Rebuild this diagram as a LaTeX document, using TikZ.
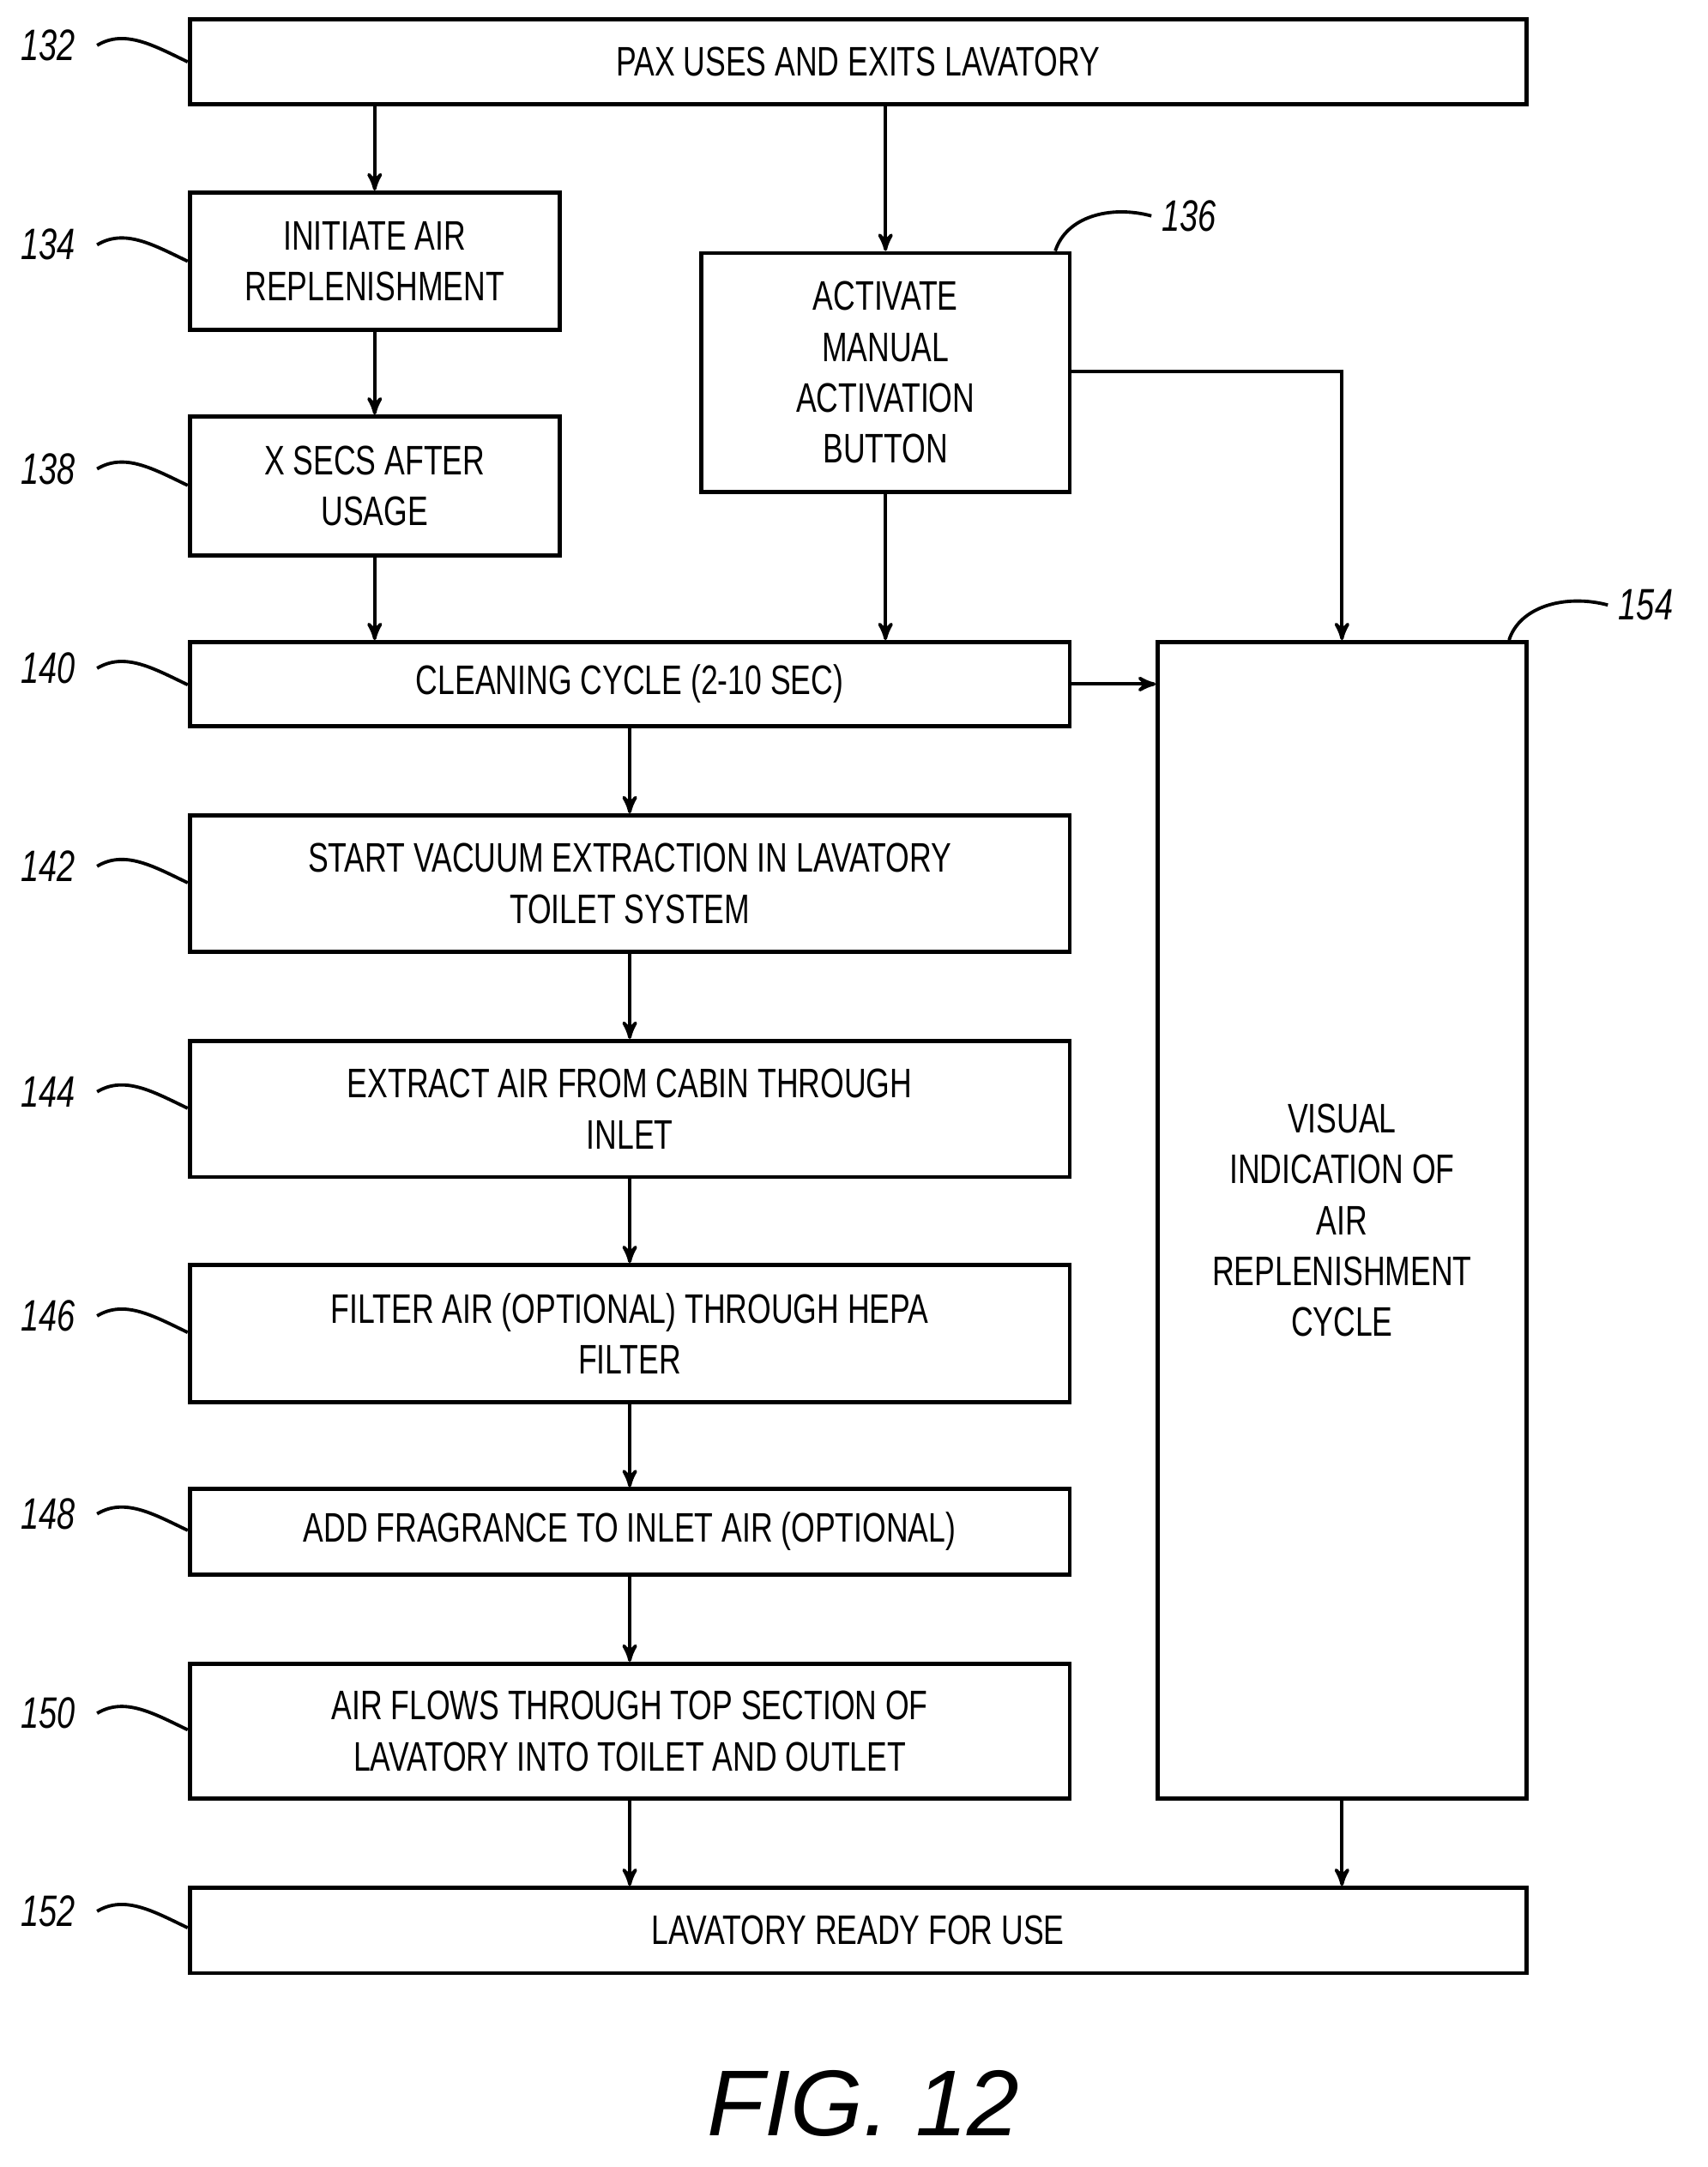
\documentclass[tikz,border=0pt]{standalone}
\usepackage{fontspec}
\setmainfont{Liberation Sans}
\newfontfamily\patfont[FakeStretch=0.74]{Liberation Sans}
\usetikzlibrary{arrows}
\begin{document}
\begin{tikzpicture}[x=0.5pt,y=-0.5pt,>=stealth',line width=1.2pt,
                    font=\patfont\fontsize{15}{18.5}\selectfont]
  \tikzstyle{stepbox}=[draw=black,line width=1.5pt,inner sep=2pt,align=center]
  \tikzstyle{ref}=[font=\itshape\patfont\fontsize{16}{18}\selectfont]
  \tikzstyle{lead}=[-,line width=1.2pt]
  \useasboundingbox (0,0) rectangle (1242,1576);

  \node[stepbox,minimum width=486pt,minimum height=31pt] (b132) at (624,45)   {PAX USES AND EXITS LAVATORY};
  \node[stepbox,minimum width=134.5pt,minimum height=50pt] (b134) at (272.5,190) {INITIATE AIR\\REPLENISHMENT};
  \node[stepbox,minimum width=134pt,minimum height=87pt] (b136) at (644,271) {ACTIVATE\\MANUAL\\ACTIVATION\\BUTTON};
  \node[stepbox,minimum width=134.5pt,minimum height=50.5pt] (b138) at (272.5,353.5) {X SECS AFTER\\USAGE};
  \node[stepbox,minimum width=320pt,minimum height=30.5pt] (b140) at (458,497.5) {CLEANING CYCLE (2-10 SEC)};
  \node[stepbox,minimum width=134pt,minimum height=420.5pt] (b154) at (976,887.5) {VISUAL\\INDICATION OF\\AIR\\REPLENISHMENT\\CYCLE};
  \node[stepbox,minimum width=320pt,minimum height=49.5pt] (b142) at (458,642.5) {START VACUUM EXTRACTION IN LAVATORY\\TOILET SYSTEM};
  \node[stepbox,minimum width=320pt,minimum height=49.5pt] (b144) at (458,806.5) {EXTRACT AIR FROM CABIN THROUGH\\INLET};
  \node[stepbox,minimum width=320pt,minimum height=50pt] (b146) at (458,970) {FILTER AIR (OPTIONAL) THROUGH HEPA\\FILTER};
  \node[stepbox,minimum width=320pt,minimum height=31pt] (b148) at (458,1114) {ADD FRAGRANCE TO INLET AIR (OPTIONAL)};
  \node[stepbox,minimum width=320pt,minimum height=49pt] (b150) at (458,1259) {AIR FLOWS THROUGH TOP SECTION OF\\LAVATORY INTO TOILET AND OUTLET};
  \node[stepbox,minimum width=486pt,minimum height=31pt] (b152) at (624,1404) {LAVATORY READY FOR USE};

  % reference numerals
  \node[ref] (r132) at (35,33)   {132};
  \node[ref] (r134) at (35,178)  {134};
  \node[ref] (r138) at (35,341)  {138};
  \node[ref] (r140) at (35,486)  {140};
  \node[ref] (r142) at (35,630)  {142};
  \node[ref] (r144) at (35,794)  {144};
  \node[ref] (r146) at (35,957)  {146};
  \node[ref] (r148) at (35,1101) {148};
  \node[ref] (r150) at (35,1246) {150};
  \node[ref] (r152) at (35,1390) {152};
  \node[ref] (r136) at (865,157) {136};
  \node[ref] (r154) at (1197,440) {154};
  \foreach \n in {132,134,138,140,142,144,146,148,150,152}
    \draw[lead] ([xshift=4pt]r\n.east) .. controls +(20,-12) and +(-25,-12) .. ([yshift=-6pt]b\n.west |- r\n.east);
  \draw[lead] ([xshift=-6pt]b136.north east) .. controls +(8,-25) and +(-30,-8) .. (r136.west);
  \draw[lead] ([xshift=-7pt]b154.north east) .. controls +(8,-25) and +(-30,-8) .. (r154.west);

  \path[->] (b132.south -| b134) edge (b134)
            (b132.south -| b136) edge (b136)
            (b134) edge (b138)
            (b138) edge (b140.north -| b138)
            (b136) edge (b140.north -| b136)
            (b140) edge (b154.west |- b140)
            (b140.south -| b142) edge (b142)
            (b142) edge (b144)
            (b144) edge (b146)
            (b146) edge (b148)
            (b148) edge (b150)
            (b150) edge (b152.north -| b150)
            (b154) edge (b152.north -| b154);
  \draw[->] (b136.east |- 0,270) -| (b154);

  \node[font=\itshape\fontsize{34}{36}\selectfont] (fig) at (628,1530) {FIG. 12};
\end{tikzpicture}
\end{document}
